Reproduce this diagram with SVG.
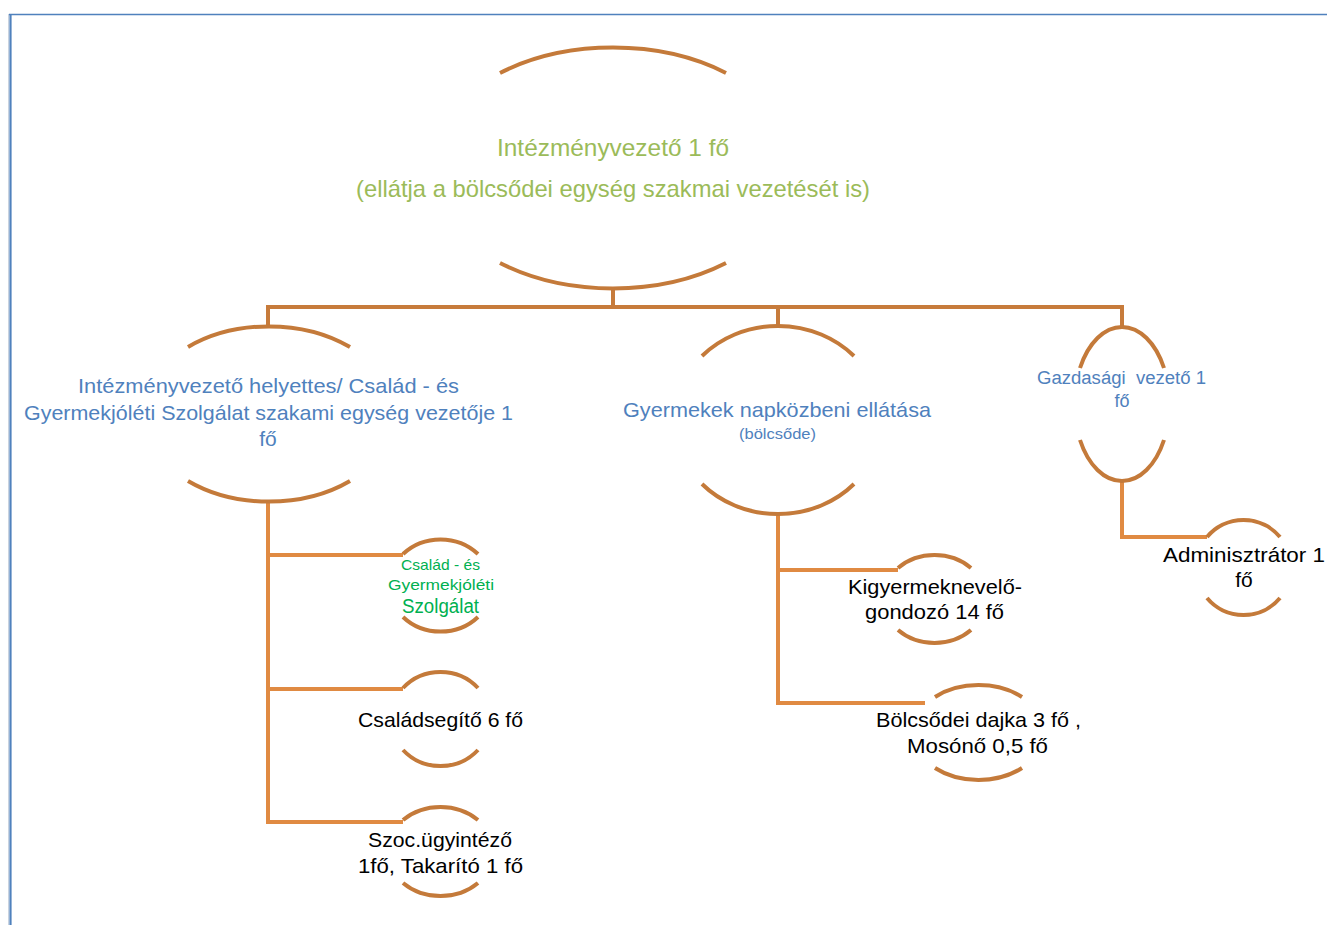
<svg xmlns="http://www.w3.org/2000/svg" width="1327" height="925" viewBox="0 0 1327 925">
<style>
.arc{fill:none;stroke:#C47A3A;stroke-width:4}
.con{fill:none;stroke:#C77B3B;stroke-width:4}
.con2{fill:none;stroke:#E08A42;stroke-width:4}
text{font-family:"Liberation Sans",Arial,sans-serif;text-anchor:middle}
.g{fill:#9BBB59}
.b{fill:#4F81BD}
.gg{fill:#00B050}
.k{fill:#000000}
</style>
<rect width="1327" height="925" fill="#ffffff"/>
<g id="frame">
<path d="M9,14.5 H1327" stroke="#4F81BD" stroke-width="1.5" fill="none"/>
<path d="M8.5,14 V925" stroke="#C9D3E0" stroke-width="1" fill="none"/>
<path d="M10.5,14 V925" stroke="#4F81BD" stroke-width="2.2" fill="none"/>
</g>
<g id="connectors">
<path class="con" d="M613,289 V307"/>
<path class="con" d="M268,327 V307 H1122 V328"/>
<path class="con" d="M778,307 V327"/>
<path class="con2" d="M268,502 V822 H403"/>
<path class="con2" d="M268,555 H403"/>
<path class="con2" d="M268,689 H403"/>
<path class="con2" d="M778,512 V703 H925"/>
<path class="con2" d="M778,570 H898"/>
<path class="con2" d="M1122,482 V537 H1207"/>
</g>
<g id="node-intezmenyvezeto">
<path class="arc" d="M500,73 A184,120.5 0 0 1 726,73"/>
<path class="arc" d="M500,263 A184,120.5 0 0 0 726,263"/>
<text class="g" x="613" y="156" font-size="24" textLength="232" lengthAdjust="spacingAndGlyphs">Intézményvezető 1 fő</text>
<text class="g" x="613" y="197" font-size="24" textLength="514" lengthAdjust="spacingAndGlyphs">(ellátja a bölcsődei egység szakmai vezetését is)</text>
</g>
<g id="node-helyettes">
<path class="arc" d="M188,347 A126,88 0 0 1 350,347"/>
<path class="arc" d="M188,481 A126,88 0 0 0 350,481"/>
<text class="b" x="268.5" y="393" font-size="21" textLength="381" lengthAdjust="spacingAndGlyphs">Intézményvezető helyettes/ Család - és</text>
<text class="b" x="268.5" y="420" font-size="21" textLength="489" lengthAdjust="spacingAndGlyphs">Gyermekjóléti Szolgálat szakami egység vezetője 1</text>
<text class="b" x="268" y="446" font-size="21">fő</text>
</g>
<g id="node-bolcsode">
<path class="arc" d="M702,356 A103,92.5 0 0 1 854,356"/>
<path class="arc" d="M702,484 A103,92.5 0 0 0 854,484"/>
<text class="b" x="777" y="417" font-size="21" textLength="308" lengthAdjust="spacingAndGlyphs">Gyermekek napközbeni ellátása</text>
<text class="b" x="777.5" y="439" font-size="15" textLength="77" lengthAdjust="spacingAndGlyphs">(bölcsőde)</text>
</g>
<g id="node-gazdasagi">
<path class="arc" d="M1080,368 A47.6,77.5 0 0 1 1164,368"/>
<path class="arc" d="M1080,440 A47.6,77.5 0 0 0 1164,440"/>
<text class="b" x="1121.5" y="384" font-size="18" textLength="169" lengthAdjust="spacingAndGlyphs" xml:space="preserve">Gazdasági  vezető 1</text>
<text class="b" x="1122" y="407" font-size="18">fő</text>
</g>
<g id="node-csgy">
<path class="arc" d="M403,554 A52,47.5 0 0 1 478,554"/>
<path class="arc" d="M403,617 A52,47.5 0 0 0 478,617"/>
<text class="gg" x="440.5" y="570" font-size="15" textLength="79" lengthAdjust="spacingAndGlyphs">Család - és</text>
<text class="gg" x="441" y="590" font-size="15" textLength="106" lengthAdjust="spacingAndGlyphs">Gyermekjóléti</text>
<text class="gg" x="440.5" y="613" font-size="20" textLength="77" lengthAdjust="spacingAndGlyphs">Szolgálat</text>
</g>
<g id="node-csaladsegito">
<path class="arc" d="M403,688 A50.3,48 0 0 1 478,688"/>
<path class="arc" d="M403,750 A50.3,48 0 0 0 478,750"/>
<text class="k" x="440.5" y="727" font-size="21" textLength="165" lengthAdjust="spacingAndGlyphs">Családsegítő 6 fő</text>
</g>
<g id="node-szoc">
<path class="arc" d="M403,820 A54,46.5 0 0 1 478,820"/>
<path class="arc" d="M403,883 A54,46.5 0 0 0 478,883"/>
<text class="k" x="440" y="847" font-size="21" textLength="144" lengthAdjust="spacingAndGlyphs">Szoc.ügyintéző</text>
<text class="k" x="440.5" y="873" font-size="21" textLength="165" lengthAdjust="spacingAndGlyphs">1fő, Takarító 1 fő</text>
</g>
<g id="node-kigyermeknevelo">
<path class="arc" d="M898,568 A52,45 0 0 1 971,568"/>
<path class="arc" d="M898,630 A52,45 0 0 0 971,630"/>
<text class="k" x="935" y="594" font-size="21" textLength="174" lengthAdjust="spacingAndGlyphs">Kigyermeknevelő-</text>
<text class="k" x="934.5" y="619" font-size="21" textLength="139" lengthAdjust="spacingAndGlyphs">gondozó 14 fő</text>
</g>
<g id="node-dajka">
<path class="arc" d="M935,697 A65,46.5 0 0 1 1022,697"/>
<path class="arc" d="M935,768 A65,46.5 0 0 0 1022,768"/>
<text class="k" x="978.5" y="727" font-size="21" textLength="205" lengthAdjust="spacingAndGlyphs">Bölcsődei dajka 3 fő ,</text>
<text class="k" x="977.5" y="753" font-size="21" textLength="141" lengthAdjust="spacingAndGlyphs">Mosónő 0,5 fő</text>
</g>
<g id="node-adminisztrator">
<path class="arc" d="M1207,537 A47.6,47.5 0 0 1 1280,537"/>
<path class="arc" d="M1207,598 A47.6,47.5 0 0 0 1280,598"/>
<text class="k" x="1244" y="562" font-size="21" textLength="162" lengthAdjust="spacingAndGlyphs">Adminisztrátor 1</text>
<text class="k" x="1244" y="587" font-size="21">fő</text>
</g>
</svg>
